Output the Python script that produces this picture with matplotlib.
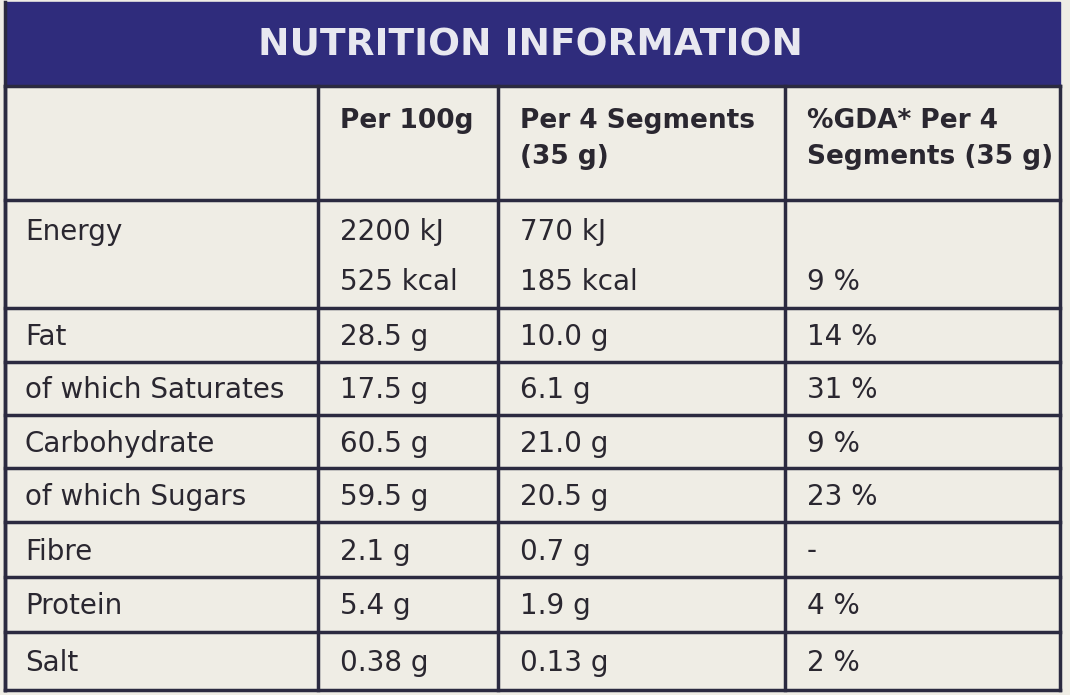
import matplotlib
matplotlib.use("Agg")
import matplotlib.pyplot as plt
from matplotlib.patches import Rectangle

title = "NUTRITION INFORMATION"
headers = ["", "Per 100g", "Per 4 Segments\n(35 g)", "%GDA* Per 4\nSegments (35 g)"]
energy_label = "Energy"
energy_per100 = ["2200 kJ", "525 kcal"]
energy_per4 = ["770 kJ", "185 kcal"]
energy_gda = ["", "9 %"]
nutrients = ["Fat", "of which Saturates", "Carbohydrate", "of which Sugars", "Fibre", "Protein", "Salt"]
per100 = ["28.5 g", "17.5 g", "60.5 g", "59.5 g", "2.1 g", "5.4 g", "0.38 g"]
per4 = ["10.0 g", "6.1 g", "21.0 g", "20.5 g", "0.7 g", "1.9 g", "0.13 g"]
gda = ["14 %", "31 %", "9 %", "23 %", "-", "4 %", "2 %"]

navy = "#2f2c7c"
line = "#2b2a40"
bg = "#efede5"
txt = "#2a2730"
fam = ["Liberation Sans Narrow", "DejaVu Sans Condensed", "DejaVu Sans"]

fig = plt.figure(figsize=(10.7, 6.95), dpi=100)
ax = fig.add_axes([0, 0, 1, 1])
ax.set_xlim(0, 1070); ax.set_ylim(695, 0); ax.axis("off")
fig.patch.set_facecolor(bg)

ax.add_patch(Rectangle((5, 2), 1055, 84, color=navy, zorder=1))
ax.text(530, 45, title, color="#e8e8f0", fontsize=27, fontweight="bold",
        ha="center", va="center", family=fam)

cols = [5, 318, 498, 785, 1060]
rows = [86, 200, 308, 362, 415, 468, 522, 577, 632, 690]
for x in cols:
    ax.plot([x, x], [86, 690], color=line, lw=2.5)
for y in rows:
    ax.plot([5, 1060], [y, y], color=line, lw=2.5)
ax.plot([5, 5], [2, 690], color=line, lw=2.5)

tx = [25, 340, 520, 807]
fs = 20
for i, h in enumerate(headers):
    if h:
        ax.text(tx[i], 108, h, fontsize=19, fontweight="bold", va="top",
                color=txt, family=fam, linespacing=1.5)

ax.text(tx[0], 232, energy_label, fontsize=fs, va="center", color=txt, family=fam)
for k, yy in enumerate([232, 282]):
    ax.text(tx[1], yy, energy_per100[k], fontsize=fs, va="center", color=txt, family=fam)
    ax.text(tx[2], yy, energy_per4[k], fontsize=fs, va="center", color=txt, family=fam)
    ax.text(tx[3], yy, energy_gda[k], fontsize=fs, va="center", color=txt, family=fam)

for i, n in enumerate(nutrients):
    yc = (rows[i + 2] + rows[i + 3]) / 2 + 2
    for j, v in enumerate([n, per100[i], per4[i], gda[i]]):
        ax.text(tx[j], yc, v, fontsize=fs, va="center", color=txt, family=fam)

fig.savefig("out.png", dpi=100, facecolor=bg)
